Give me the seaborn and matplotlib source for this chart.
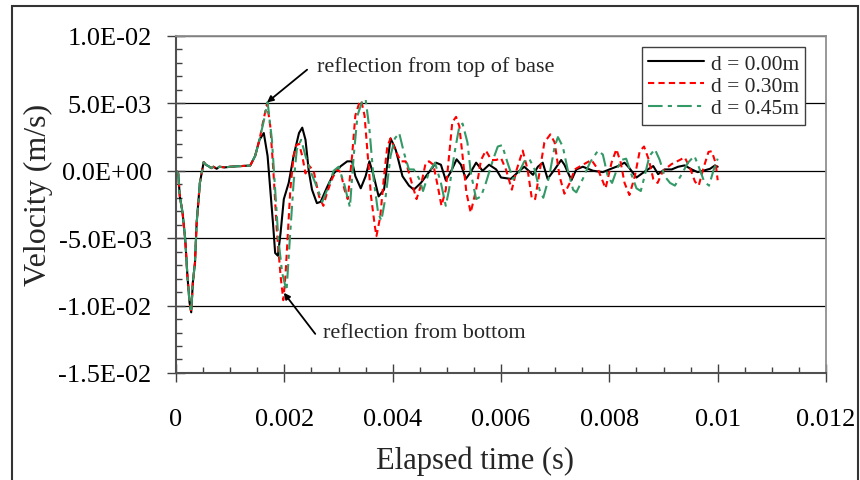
import numpy as np
import matplotlib
matplotlib.use("Agg")
import matplotlib.pyplot as plt
import seaborn as sns
from matplotlib.ticker import MultipleLocator, FuncFormatter
from matplotlib.patches import Rectangle

# values: time in ms, velocity in 1E-3 m/s
# all three records share the first part (up to the first rise)
t_start = [0, 0.04, 0.07, 0.12, 0.17, 0.21, 0.25, 0.28, 0.31, 0.35, 0.38, 0.44, 0.51,
           0.55, 0.60, 0.65, 0.69, 0.75, 0.80, 0.90, 1.00, 1.20, 1.37, 1.46, 1.54]
v_start = [0.0, -0.2, -1.9, -3.1, -5.1, -7.8, -9.8, -10.5, -8.3, -6.8, -3.9, -0.9, 0.64,
           0.45, 0.34, 0.2, 0.3, 0.15, 0.3, 0.25, 0.3, 0.35, 0.39, 1.1, 2.3]

# d = 0.00m
t_d000 = [1.62, 1.69, 1.74, 1.79, 1.83, 1.88, 1.93, 1.99, 2.08, 2.17, 2.27, 2.33, 2.39, 2.45,
          2.51, 2.60, 2.67, 2.79, 2.91, 3.04, 3.16, 3.25, 3.31, 3.41, 3.50, 3.57, 3.65, 3.74,
          3.84, 3.90, 3.96, 4.02, 4.06, 4.18, 4.30, 4.39, 4.52, 4.67, 4.80, 4.89, 4.98, 5.07,
          5.18, 5.26, 5.35, 5.44, 5.54, 5.66, 5.78, 5.91, 6.00, 6.18, 6.34, 6.43, 6.59, 6.68,
          6.77, 6.86, 6.99, 7.11, 7.17, 7.30, 7.39, 7.51, 7.70, 7.88, 8.00, 8.16, 8.28, 8.37,
          8.50, 8.62, 8.71, 8.81, 8.90, 9.02, 9.15, 9.27, 9.39, 9.52, 9.63, 9.73, 9.86, 9.95, 10.0]
v_d000 = [2.8, 1.1, -1.4, -3.9, -6.1, -6.3, -4.6, -2.1, -0.9, 1.1, 2.8, 3.2, 2.3, 0.0,
          -1.4, -2.4, -2.3, -1.2, -0.2, 0.34, 0.7, 0.7, -0.4, -1.3, -0.4, 0.7, -0.4, -1.9,
          -1.4, 0.5, 2.4, 1.9, 1.5, -0.4, -1.1, -1.4, -0.9, -0.1, 0.6, 0.45, -0.7, -0.1,
          0.85, 0.45, -0.6, -0.1, 0.6, 0.0, 0.45, 0.1, -0.5, -0.6, 0.0, 0.3, -0.3, 0.3,
          0.6, -0.6, 0.1, 0.8, 0.45, -0.7, 0.1, 0.3, 0.0, -0.1, 0.1, 0.35, 0.6, 0.2,
          -0.5, -0.15, 0.1, 0.35, -0.25, 0.1, 0.1, 0.3, 0.4, 0.1, -0.1, 0.0, 0.15, 0.4, 0.3]

# d = 0.30m
t_d030 = [1.60, 1.68, 1.74, 1.80, 1.86, 1.93, 1.98, 2.02, 2.06, 2.11, 2.17, 2.22, 2.27, 2.33,
          2.39, 2.45, 2.54, 2.64, 2.72, 2.79, 2.88, 2.97, 3.04, 3.11, 3.17, 3.25, 3.31, 3.38,
          3.42, 3.48, 3.54, 3.60, 3.67, 3.70, 3.77, 3.84, 3.90, 3.96, 4.04, 4.15, 4.24, 4.33,
          4.44, 4.52, 4.61, 4.67, 4.75, 4.83, 4.90, 4.98, 5.04, 5.10, 5.17, 5.23, 5.29, 5.36,
          5.44, 5.54, 5.63, 5.72, 5.82, 5.91, 6.00, 6.09, 6.20, 6.29, 6.40, 6.49, 6.57, 6.63,
          6.71, 6.80, 6.91, 6.99, 7.08, 7.17, 7.27, 7.36, 7.51, 7.67, 7.79, 7.93, 8.04, 8.13,
          8.21, 8.28, 8.37, 8.47, 8.56, 8.64, 8.73, 8.81, 8.89, 8.99, 9.15, 9.30, 9.39, 9.49,
          9.58, 9.65, 9.73, 9.83, 9.89, 9.96, 10.0]
v_d030 = [3.5, 5.0, 3.3, -0.2, -4.4, -7.8, -9.6, -7.8, -4.9, -1.4, 1.1, 1.9, 2.0, 1.1,
          -0.2, 0.4, 0.0, -1.9, -2.6, -1.6, -0.6, 0.1, -0.1, -1.4, -2.1, 1.1, 4.1, 5.0,
          5.2, 4.1, 1.1, -1.9, -4.1, -4.85, -3.4, -0.4, 1.8, 2.4, 1.6, 0.7, 0.7, -0.6,
          -2.1, -1.1, 0.6, 0.7, 0.45, -1.1, -2.6, -1.4, 1.1, 3.6, 4.0, 3.3, 1.1, -1.6,
          -3.1, -1.4, 0.8, 1.5, 0.8, 0.8, 0.95, 0.1, -1.4, 0.1, 1.5, 0.1, -2.1, -2.1,
          -0.1, 2.1, 2.7, 2.1, -0.4, -1.7, -0.9, 0.1, 0.45, 0.8, 0.1, -1.3, 0.6, 1.6,
          0.6, -0.9, -1.8, -0.4, 1.45, 1.8, 0.8, -0.6, -0.9, 0.0, 0.5, 0.8, 1.0, 0.2,
          -0.8, -1.1, 0.1, 1.4, 1.45, 0.6, -0.7]

# d = 0.45m
t_d045 = [1.62, 1.69, 1.77, 1.83, 1.89, 1.96, 2.04, 2.10, 2.17, 2.23, 2.31, 2.39, 2.48, 2.60,
          2.70, 2.79, 2.91, 3.00, 3.10, 3.21, 3.28, 3.35, 3.44, 3.50, 3.57, 3.65, 3.73, 3.79,
          3.87, 3.96, 4.04, 4.12, 4.21, 4.30, 4.39, 4.49, 4.56, 4.67, 4.78, 4.89, 4.98, 5.04,
          5.14, 5.23, 5.29, 5.38, 5.44, 5.54, 5.63, 5.72, 5.85, 5.94, 6.02, 6.12, 6.22, 6.31,
          6.43, 6.52, 6.62, 6.71, 6.78, 6.89, 6.99, 7.05, 7.14, 7.23, 7.33, 7.39, 7.51, 7.64,
          7.79, 7.88, 7.97, 8.05, 8.13, 8.22, 8.31, 8.41, 8.50, 8.58, 8.65, 8.74, 8.84, 8.93,
          9.02, 9.12, 9.21, 9.33, 9.45, 9.57, 9.65, 9.75, 9.84, 9.92, 10.0]
v_d045 = [3.7, 5.1, 2.3, -1.4, -5.1, -7.6, -8.9, -5.1, -0.9, 1.6, 2.3, 1.1, 0.0, -1.2,
          -2.3, -1.4, 0.0, 0.3, -0.9, -2.7, 1.1, 4.1, 5.2, 5.3, 3.1, -0.7, -3.1, -3.7,
          -1.9, 1.1, 2.4, 2.8, 1.3, 0.1, 0.1, -0.6, -1.5, -0.1, 0.6, -0.9, -2.6, -1.4,
          1.3, 3.3, 3.5, 2.1, -0.1, -2.1, -1.9, -0.9, 0.8, 1.8, 1.9, 0.6, -0.6, -0.3,
          0.7, 0.9, 0.1, -1.4, -2.0, -0.4, 1.8, 2.5, 1.8, 0.1, -1.4, -1.6, -0.6, 0.6,
          1.5, 1.2, -0.4, -0.9, 0.0, 0.8, 0.9, -0.3, -1.3, -1.5, -0.4, 1.1, 1.6, 0.8,
          -0.4, -0.9, -1.1, -0.3, 0.6, 1.1, 0.3, -0.8, -1.1, 0.0, 0.9]

labels = ["d = 0.00m", "d = 0.30m", "d = 0.45m"]
colors = ["black", "#ff0000", "#339966"]
styles = ["-", (0, (3, 2)), (0, (7, 2.5, 2, 2.5))]

sns.set_theme(style="white")
plt.rcParams["font.family"] = ["Liberation Serif", "DejaVu Serif"]

fig, ax = plt.subplots(figsize=(8.6, 4.81), dpi=100)
fig.subplots_adjust(left=0.2047, right=0.9605, bottom=0.2225, top=0.9231)

series = [(t_d000, v_d000), (t_d030, v_d030), (t_d045, v_d045)]
for (t, v), lab, col, ls in zip(series, labels, colors, styles):
    tt = np.array(t_start + t) * 1e-3
    vv = np.array(v_start + v) * 1e-3
    sns.lineplot(x=tt, y=vv, ax=ax, color=col, linestyle=ls, lw=1.5,
                 label=lab, sort=False, estimator=None)

ax.set_xlim(0, 0.012)
ax.set_ylim(-0.015, 0.01)
ax.xaxis.set_major_locator(MultipleLocator(0.002))
ax.xaxis.set_minor_locator(MultipleLocator(0.0005))
ax.yaxis.set_major_locator(MultipleLocator(0.005))
ax.yaxis.set_minor_locator(MultipleLocator(0.001))
ax.xaxis.set_major_formatter(FuncFormatter(lambda v, p: f"{v:g}"))
ax.yaxis.set_major_formatter(FuncFormatter(lambda v, p: f"{v:.1E}"))

ax.yaxis.grid(True, color="black", lw=0.9)
ax.xaxis.grid(False)

ax.tick_params(which="major", direction="inout", length=13, width=1, color="#404040",
               labelsize=19, colors="black")
ax.tick_params(which="minor", direction="in", length=4, width=1, color="#404040")
ax.tick_params(axis="x", which="major", pad=19, bottom=True)
ax.tick_params(axis="y", which="major", pad=11, left=True)
ax.tick_params(axis="x", which="minor", bottom=True)
ax.tick_params(axis="y", which="minor", left=True)

for s in ["left", "bottom"]:
    ax.spines[s].set_color("#505050")
    ax.spines[s].set_linewidth(1.5)
for s in ["top", "right"]:
    ax.spines[s].set_color("#909090")
    ax.spines[s].set_linewidth(1.3)

ax.set_xlabel("Elapsed time (s)", fontsize=22)
ax.set_ylabel("Velocity (m/s)", fontsize=23)
ax.xaxis.set_label_coords(0.46, -0.215)
ax.yaxis.set_label_coords(-0.189, 0.531)

leg = ax.legend(loc="upper right", bbox_to_anchor=(0.968, 0.967), fontsize=15.5,
                frameon=True, fancybox=False, framealpha=1, edgecolor="#404040",
                handlelength=2.6, handletextpad=0.3, borderpad=0.3, labelspacing=0.1,
                borderaxespad=0)
leg.get_frame().set_linewidth(1.0)

# annotations
ax.annotate("", xy=(0.00168, 0.00507), xytext=(0.00242, 0.0075),
            arrowprops=dict(arrowstyle="-|>", color="black", lw=1.3, mutation_scale=9,
                            shrinkA=0, shrinkB=0))
ax.text(0.00261, 0.00774, "reflection from top of base", fontsize=16, ha="left", va="center")
ax.annotate("", xy=(0.00199, -0.00905), xytext=(0.00257, -0.0121),
            arrowprops=dict(arrowstyle="-|>", color="black", lw=1.3, mutation_scale=9,
                            shrinkA=0, shrinkB=0))
ax.text(0.00272, -0.0120, "reflection from bottom", fontsize=16, ha="left", va="center")

# outer chart border
fig.patches.append(Rectangle((12 / 860, -0.1), 846 / 860, 1 - 7 / 481 + 0.1,
                             transform=fig.transFigure, fill=False,
                             edgecolor="#333333", lw=1.5, clip_on=False))

fig.savefig("out.png", dpi=100)
